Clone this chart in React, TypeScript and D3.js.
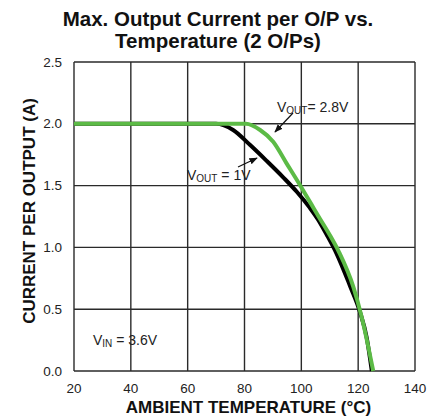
import * as d3 from "d3";

const xTicks = [20, 40, 60, 80, 100, 120, 140];
const yTicks = [0, 0.5, 1.0, 1.5, 2.0, 2.5];

// VOUT = 2.8V
const tempV28 = [20, 80.5, 85.5, 90.1, 94.8, 99.5, 103.5, 106.6, 110, 113.3, 118.3, 121.2, 125.3];
const currV28 = [2.0, 2.0, 1.95, 1.855, 1.68, 1.505, 1.35, 1.23, 1.1, 0.96, 0.68, 0.44, 0];

// VOUT = 1V
const tempV1 = [20, 70, 76, 81.9, 87.8, 93.7, 98.4, 103, 105.9, 109, 112.4, 117.1, 120.6, 123, 124.8];
const currV1 = [2.0, 2.0, 1.95, 1.83, 1.7, 1.565, 1.45, 1.32, 1.225, 1.1, 0.95, 0.69, 0.48, 0.27, 0];

const W = 444, H = 417;
const M = { left: 74, right: 29, top: 62, bottom: 46 };

export default function App() {
  const x = d3.scaleLinear().domain([20, 140]).range([M.left, W - M.right]);
  const y = d3.scaleLinear().domain([0, 2.5]).range([H - M.bottom, M.top]);
  const line = d3
    .line<[number, number]>()
    .x((d) => x(d[0]))
    .y((d) => y(d[1]))
    .curve(d3.curveMonotoneX);
  const d1 = line(tempV1.map((t, i) => [t, currV1[i]]) as [number, number][]) || "";
  const d28 = line(tempV28.map((t, i) => [t, currV28[i]]) as [number, number][]) || "";
  const font = "Arial, 'Liberation Sans', sans-serif";

  return (
    <svg width={W} height={H} style={{ position: "absolute", left: 0, top: 0, background: "#fff" }} fontFamily={font}>
      <defs>
        <marker id="ah" viewBox="0 0 10 10" refX="9" refY="5" markerWidth="7" markerHeight="7" orient="auto">
          <path d="M0,1 L10,5 L0,9 z" fill="#111" />
        </marker>
      </defs>
      <text x={218} y={26} textAnchor="middle" fontWeight="bold" fontSize={20.5} fill="#111">
        Max. Output Current per O/P vs.
      </text>
      <text x={218} y={48} textAnchor="middle" fontWeight="bold" fontSize={20.5} fill="#111">
        Temperature (2 O/Ps)
      </text>
      {xTicks.map((t) => (
        <line key={"gx" + t} x1={x(t)} x2={x(t)} y1={y(0)} y2={y(2.5)} stroke="#2a2a2a" strokeWidth={1.4} />
      ))}
      {yTicks.map((t) => (
        <line key={"gy" + t} x1={x(20)} x2={x(140)} y1={y(t)} y2={y(t)} stroke="#2a2a2a" strokeWidth={1.4} />
      ))}
      {xTicks.map((t) => (
        <text key={"tx" + t} x={x(t)} y={y(0) + 22} textAnchor="middle" fontSize={13.5} fill="#222">
          {t}
        </text>
      ))}
      {yTicks.map((t) => (
        <text key={"ty" + t} x={x(20) - 12} y={y(t) + 4.5} textAnchor="end" fontSize={13.5} fill="#222">
          {t.toFixed(1)}
        </text>
      ))}
      <path d={d1} fill="none" stroke="#000" strokeWidth={4} />
      <path d={d28} fill="none" stroke="#5cbb46" strokeWidth={4} />
      <text x={277} y={112} fontSize={14} fill="#222">
        V<tspan fontSize={10} dy={2}>OUT</tspan>
        <tspan dy={-2}>= 2.8V</tspan>
      </text>
      <line x1={293} y1={113} x2={275} y2={132} stroke="#111" strokeWidth={1.2} markerEnd="url(#ah)" />
      <text x={187} y={180} fontSize={14} fill="#222">
        V<tspan fontSize={10} dy={2}>OUT</tspan>
        <tspan dy={-2}> = 1V</tspan>
      </text>
      <line x1={238} y1={167} x2={257} y2={158} stroke="#111" strokeWidth={1.2} markerEnd="url(#ah)" />
      <text x={93} y={345} fontSize={14} fill="#222">
        V<tspan fontSize={10} dy={2}>IN</tspan>
        <tspan dy={-2}> = 3.6V</tspan>
      </text>
      <text x={248.5} y={412.5} textAnchor="middle" fontWeight="bold" fontSize={17} fill="#111">
        AMBIENT TEMPERATURE (°C)
      </text>
      <text
        transform={`translate(35,211) rotate(-90)`}
        textAnchor="middle"
        fontWeight="bold"
        fontSize={17}
        fill="#111"
      >
        CURRENT PER OUTPUT (A)
      </text>
    </svg>
  );
}
